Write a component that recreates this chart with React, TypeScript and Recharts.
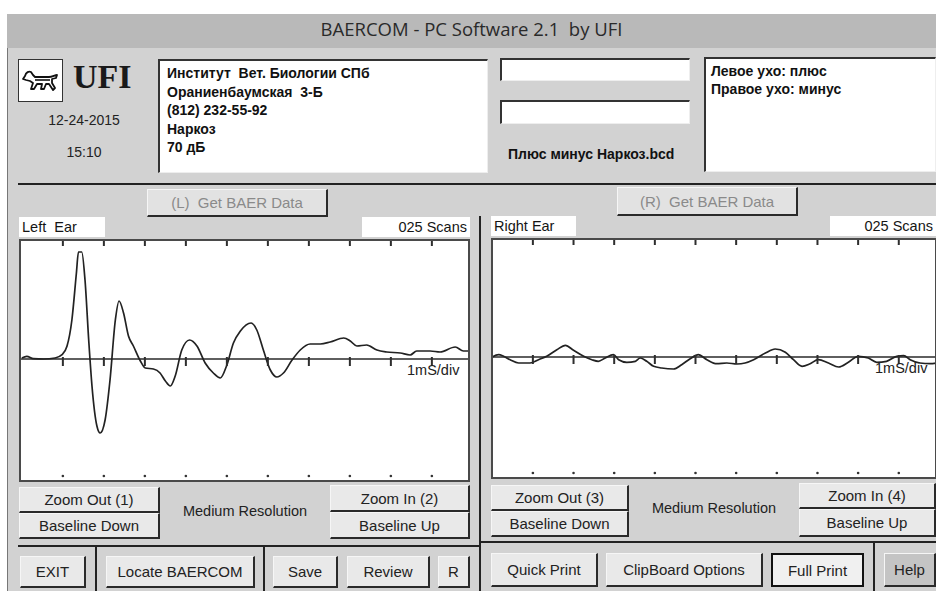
import React from "react";
import { ComposedChart, Line, Scatter, XAxis, YAxis, ReferenceLine } from "recharts";

// Left ear response: time in ms, amplitude in screen units (1 unit ~ 1 px)
const leftTimeMs = [
  0, 0.12, 0.28, 0.53, 0.81, 0.98, 1.1, 1.22, 1.33, 1.38, 1.46, 1.54, 1.63, 1.71, 1.83, 1.91,
  2.03, 2.15, 2.28, 2.37, 2.48, 2.6, 2.72, 2.89, 3.01, 3.21, 3.37, 3.5, 3.62, 3.74, 3.9, 4.09,
  4.27, 4.47, 4.67, 4.84, 5.0, 5.16, 5.33, 5.59, 5.73, 5.89, 6.06, 6.22, 6.38, 6.59, 6.79, 7.03,
  7.28, 7.52, 7.85, 8.01, 8.17, 8.41, 8.66, 8.9, 9.23, 9.47, 9.63, 9.96, 10.2, 10.57, 10.77, 10.93,
];
const leftAmplitude = [
  1, 2.7, 0.3, 0, 1, 4.3, 12.7, 39, 86, 107, 107, 79, 19, -27, -67, -74,
  -61, -21, 39, 58, 46, 23, 13, -2, -9, -10, -14, -22, -27, -17, 9, 19,
  13, -4, -14, -19, -6, 16, 28, 36, 29, 9, -11, -18, -14, -1, 9, 15,
  15, 17, 21, 18, 13, 14, 9, 7, 6, 4, 8, 8, 7, 12, 8, 8,
];

// Right ear response
const rightTimeMs = [
  0, 0.16, 0.28, 0.44, 0.65, 0.93, 1.14, 1.34, 1.59, 1.8, 2.0, 2.25, 2.45, 2.61, 2.78, 2.98,
  3.11, 3.31, 3.52, 3.64, 3.8, 3.97, 4.17, 4.46, 4.66, 4.87, 5.07, 5.28, 5.52, 5.77, 6.02, 6.22,
  6.43, 6.72, 6.96, 7.21, 7.41, 7.62, 7.82, 8.02, 8.27, 8.52, 8.76, 9.0, 9.25, 9.46, 9.7, 9.95,
  10.12, 10.28, 10.52, 10.77, 10.92,
];
const rightAmplitude = [
  0, 2.3, 0.7, -2.7, -6, -6, -2.7, 0.7, 7.3, 11.7, 6.7, 0.7, -2.7, -4.3, -1, 2.3,
  -2.7, -5.3, -4.3, -1, -4.3, -9.3, -11, -12, -7.7, -1.7, 2.3, -2.7, -6.7, -6, -7, -6,
  -2.7, 4, 8, 4.7, -2.7, -9.3, -6.7, -2.7, -6, -10, -5.3, 0.7, -1, -5.3, -4.3, 0.7,
  1.3, -2.7, -6, -6.7, -6,
];

const msTicks = [1, 2, 3, 4, 5, 6, 7, 8, 9, 10];

const infoLines = ["Институт  Вет. Биологии СПб", "Ораниенбаумская  3-Б", "(812) 232-55-92", "Наркоз", "70 дБ"];
const noteLines = ["Левое ухо: плюс", "Правое ухо: минус"];

const leftData = leftTimeMs.map((t, i) => ({ t, v: leftAmplitude[i] }));
const rightData = rightTimeMs.map((t, i) => ({ t, v: rightAmplitude[i] }));

const UI = "'Liberation Sans', Arial, sans-serif";
const PANEL = "#d2d2d2";

function abs(left: number, top: number, width?: number, height?: number): React.CSSProperties {
  return { position: "absolute", left, top, width, height, boxSizing: "border-box" };
}

function Btn({ x, y, w, h, label, color = "#222", bg = "#e9e9e9", strong = false }: any) {
  const border = strong
    ? { border: "2px solid #111" }
    : {
        borderTop: "1px solid #f6f6f6",
        borderLeft: "1px solid #f6f6f6",
        borderRight: "2px solid #2a2a2a",
        borderBottom: "2px solid #2a2a2a",
      };
  return (
    <div
      style={{
        ...abs(x, y, w, h),
        ...border,
        background: bg,
        color,
        font: `15px ${UI}`,
        display: "flex",
        alignItems: "center",
        justifyContent: "center",
        whiteSpace: "pre",
      }}
    >
      {label}
    </div>
  );
}

function Sunken({ x, y, w, h, children }: any) {
  return (
    <div
      style={{
        ...abs(x, y, w, h),
        background: "#fff",
        borderTop: "2px solid #333",
        borderLeft: "2px solid #333",
        borderRight: "1px solid #eee",
        borderBottom: "1px solid #eee",
      }}
    >
      {children}
    </div>
  );
}

function Label({ x, y, w, h, text, align = "left" }: any) {
  return (
    <div
      style={{
        ...abs(x, y, w, h),
        background: "#fff",
        font: `14.5px ${UI}`,
        color: "#151515",
        lineHeight: `${h}px`,
        padding: "0 3px",
        textAlign: align,
        whiteSpace: "pre",
      }}
    >
      {text}
    </div>
  );
}

// short vertical tick, drawn as a thin rect so it is a filled shape
const tickMark = (len: number, up = 0) => (p: any) =>
  <rect x={p.cx - 1} y={p.cy - up} width={2} height={len + up} fill="#2e2e2e" />;
const smallDot = (p: any) => <circle cx={p.cx} cy={p.cy} r={1.3} fill="#333" />;

function WavePlot({ data, x, y, w, h, xDomain, yDomain }: any) {
  const [yMin, yMax] = yDomain;
  const topTicks = msTicks.map((k) => ({ t: k, v: yMax }));
  const baseTicks = msTicks.map((k) => ({ t: k, v: 0 }));
  const bottomDots = msTicks.map((k) => ({ t: k, v: yMin + 6 }));
  return (
    <div style={{ ...abs(x, y, w, h), background: "#fff" }}>
      <ComposedChart width={w} height={h} data={data} margin={{ top: 0, right: 0, bottom: 0, left: 0 }}>
        <XAxis type="number" dataKey="t" domain={xDomain} allowDataOverflow hide />
        <YAxis type="number" domain={yDomain} allowDataOverflow hide />
        <ReferenceLine y={0} stroke="#2a2a2a" strokeWidth={1.6} />
        <Scatter data={topTicks} dataKey="v" shape={tickMark(7)} isAnimationActive={false} />
        <Scatter data={baseTicks} dataKey="v" shape={tickMark(7, 2)} isAnimationActive={false} />
        <Scatter data={bottomDots} dataKey="v" shape={smallDot} isAnimationActive={false} />
        <Line
          dataKey="v"
          type="monotone"
          stroke="#222"
          strokeWidth={1.7}
          dot={false}
          isAnimationActive={false}
        />
      </ComposedChart>
      <div style={{ ...abs(0, 0, w, h), border: "2px solid #4a4a4a", pointerEvents: "none" }} />
    </div>
  );
}

function Dog() {
  return (
    <svg width={38} height={28} viewBox="0 0 38 28" style={{ position: "absolute", left: 3, top: 7 }}>
      <path
        d="M3 9 C4 5 7 4 9 5 L11 8 L13 10 L27 10 C30 10 33 8 35 8 L34 11 L30 12 L30 16 L33 21 L31 23 L27 17 L24 17 L22 22 L19 22 L20 17 L15 17 L12 22 L9 22 L11 16 L8 14 L4 13 L1 12 Z"
        fill="none"
        stroke="#111"
        strokeWidth={1.8}
        strokeLinejoin="round"
      />
      <path d="M13 13 L28 13" stroke="#111" strokeWidth={1.6} />
    </svg>
  );
}

export default function App() {
  const bold14: React.CSSProperties = { font: `bold 14px ${UI}`, color: "#111", whiteSpace: "pre" };
  return (
    <div style={{ position: "absolute", left: 0, top: 0, width: 936, height: 591, background: "#fff", overflow: "hidden" }}>
      {/* window */}
      <div style={{ ...abs(7, 14, 929, 577), background: PANEL, borderLeft: "1px solid #777" }} />
      <div style={{ ...abs(7, 14, 929, 34), background: "#b9b9b9" }} />
      <div
        style={{
          ...abs(7, 14, 929, 34),
          font: `18.5px 'Open Sans', sans-serif`,
          color: "#2a2a2a",
          textAlign: "center",
          lineHeight: "30px",
          whiteSpace: "pre",
        }}
      >
        {"BAERCOM - PC Software 2.1  by UFI"}
      </div>

      {/* logo, date */}
      <div style={{ ...abs(18, 59, 45, 43), background: "#fff", border: "1px solid #333" }}>
        <Dog />
      </div>
      <div style={{ ...abs(73, 58), font: `bold 34px 'Liberation Serif', serif`, color: "#1a1a1a" }}>UFI</div>
      <div style={{ ...abs(30, 112, 108), font: `14px ${UI}`, color: "#222", textAlign: "center" }}>12-24-2015</div>
      <div style={{ ...abs(30, 144, 108), font: `14px ${UI}`, color: "#222", textAlign: "center" }}>15:10</div>

      {/* info boxes */}
      <Sunken x={158} y={59} w={330} h={114}>
        <div style={{ ...bold14, padding: "3px 0 0 7px", lineHeight: "18.5px" }}>
          {infoLines.map((l) => (
            <div key={l}>{l}</div>
          ))}
        </div>
      </Sunken>
      <Sunken x={500} y={58} w={190} h={23} />
      <Sunken x={500} y={100} w={190} h={24} />
      <div style={{ ...abs(508, 146), ...bold14 }}>Плюс минус Наркоз.bcd</div>
      <Sunken x={704} y={57} w={232} h={115}>
        <div style={{ ...bold14, padding: "3px 0 0 5px", lineHeight: "18px" }}>
          {noteLines.map((l) => (
            <div key={l}>{l}</div>
          ))}
        </div>
      </Sunken>

      <div style={{ ...abs(18, 183, 918, 2), background: "#222" }} />
      <div style={{ ...abs(479, 216, 2, 375), background: "#222" }} />

      {/* left ear */}
      <Btn x={147} y={189} w={181} h={28} label="(L)  Get BAER Data" color="#8a8a8a" bg="#e2e2e2" />
      <Label x={19} y={217} w={86} h={20} text="Left  Ear" />
      <Label x={362} y={217} w={108} h={20} text="025 Scans" align="right" />
      <WavePlot data={leftData} x={19} y={239} w={451} h={243} xDomain={[-0.07, 10.93]} yDomain={[-123, 120]} />
      <div style={{ ...abs(407, 362), font: `14.5px ${UI}`, color: "#222" }}>1mS/div</div>

      {/* right ear */}
      <Btn x={617} y={187} w={181} h={29} label="(R)  Get BAER Data" color="#8a8a8a" bg="#e2e2e2" />
      <Label x={491} y={216} w={85} h={20} text="Right Ear" />
      <Label x={830} y={216} w={106} h={20} text="025 Scans" align="right" />
      <WavePlot data={rightData} x={491} y={238} w={446} h={241} xDomain={[-0.03, 10.94]} yDomain={[-122, 119]} />
      <div style={{ ...abs(875, 360), font: `14.5px ${UI}`, color: "#222" }}>1mS/div</div>

      {/* left controls */}
      <Btn x={19} y={487} w={141} h={26} label="Zoom Out (1)" />
      <Btn x={19} y={513} w={141} h={26} label="Baseline Down" />
      <div style={{ ...abs(165, 503, 160), font: `14.5px ${UI}`, color: "#222", textAlign: "center" }}>Medium Resolution</div>
      <Btn x={330} y={485} w={140} h={27} label="Zoom In (2)" />
      <Btn x={330} y={512} w={140} h={27} label="Baseline Up" />
      <div style={{ ...abs(18, 545, 462, 2), background: "#222" }} />
      <div style={{ ...abs(95, 546, 2, 45), background: "#222" }} />
      <div style={{ ...abs(263, 546, 2, 45), background: "#222" }} />
      <Btn x={20} y={556} w={66} h={32} label="EXIT" />
      <Btn x={106} y={556} w={149} h={32} label="Locate BAERCOM" />
      <Btn x={273} y={556} w={65} h={32} label="Save" />
      <Btn x={347} y={556} w={83} h={32} label="Review" />
      <Btn x={438} y={556} w={32} h={32} label="R" />

      {/* right controls */}
      <Btn x={491} y={485} w={138} h={26} label="Zoom Out (3)" />
      <Btn x={491} y={511} w={138} h={26} label="Baseline Down" />
      <div style={{ ...abs(634, 500, 160), font: `14.5px ${UI}`, color: "#222", textAlign: "center" }}>Medium Resolution</div>
      <Btn x={799} y={483} w={137} h={26} label="Zoom In (4)" />
      <Btn x={799} y={509} w={137} h={28} label="Baseline Up" />
      <div style={{ ...abs(481, 541, 455, 2), background: "#222" }} />
      <div style={{ ...abs(873, 542, 2, 49), background: "#222" }} />
      <Btn x={491} y={553} w={107} h={34} label="Quick Print" />
      <Btn x={606} y={553} w={157} h={34} label="ClipBoard Options" />
      <Btn x={771} y={553} w={93} h={34} label="Full Print" bg="#f0f0f0" strong />
      <Btn x={884} y={553} w={52} h={34} label="Help" bg="#c4c4c4" />
    </div>
  );
}
